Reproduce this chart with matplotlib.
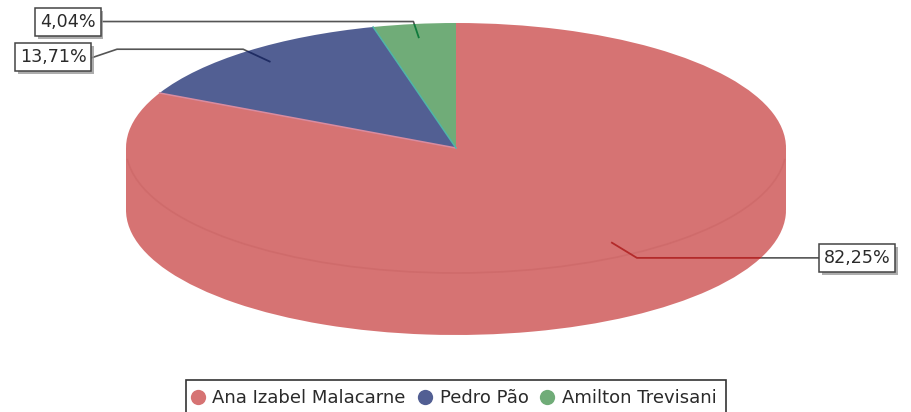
import numpy as np
import matplotlib
matplotlib.use('Agg')
import matplotlib.pyplot as plt
import matplotlib.patheffects as pe
from matplotlib.lines import Line2D
from matplotlib.patches import Arc, Rectangle

names = ['Ana Izabel Malacarne', 'Pedro Pão', 'Amilton Trevisani']
values = [82.25, 13.71, 4.04]
labels = ['82,25%', '13,71%', '4,04%']
colors = ['#D67373', '#525F93', '#70AC78']
line_colors = ['#B32A2A', '#1F2C63', '#0F7A3C']

W, H = 911, 412
cx, cy = 456, 148      # centre of the top ellipse, pixels from top left
rx, ry = 330, 125
depth = 62


def px(x, y):
    # picture pixels -> pie units
    return (x - cx) / rx, (cy - y) / ry


fig = plt.figure(figsize=(W / 100, H / 100), dpi=100)
ax = fig.add_axes([0, 0, 1, 1])

# side of the cylinder, then the top
side, _ = ax.pie(values, colors=[colors[0]] * 3, startangle=90, counterclock=False,
                 center=(0, -depth / ry), radius=1)
top, _ = ax.pie(values, colors=colors, startangle=90, counterclock=False,
                center=(0, 0), radius=1)
ax.add_patch(Rectangle((-1, -depth / ry), 2, depth / ry, fc=colors[0], ec='none', zorder=0.5))
for w in side:
    w.set_zorder(0.4)
for w in top:
    w.set_zorder(1)
ax.add_patch(Arc((0, 0), 2, 2, theta1=185, theta2=355, ec='#CF6B6B', lw=1.2, zorder=1.1))

ax.set_aspect('auto')
ax.set_xlim(-cx / rx, (W - cx) / rx)
ax.set_ylim((cy - H) / ry, cy / ry)
ax.axis('off')

# seams between the slices
fracs = np.cumsum(values) / np.sum(values)
for f, c in zip(fracs[:2], ['#D98CA0', '#4FB5A8']):
    a = np.pi / 2 - 2 * np.pi * f
    ax.plot([0, np.cos(a)], [0, np.sin(a)], color=c, lw=1.1, zorder=1.2)

# leader lines, worked out from the middle of each slice
elbow = [1.036, 1.02, 1.02]
label_end = [820, 91, 100]
clips = [side[0], top[1], top[2]]
mids = np.pi / 2 - 2 * np.pi * (fracs - np.array(values) / np.sum(values) / 2)
for i in range(3):
    x0, y0 = 0.893 * np.cos(mids[i]), 0.893 * np.sin(mids[i])
    x1, y1 = elbow[i] * np.cos(mids[i]), elbow[i] * np.sin(mids[i])
    x2 = px(label_end[i], 0)[0]
    if i == 1:
        xs, ys = [x0, x1, px(117, 0)[0], x2], [y0, y1, y1, px(0, 58)[1]]
    else:
        xs, ys = [x0, x1, x2], [y0, y1, y1]
    ax.plot(xs, ys, color='#555555', lw=1.2, zorder=0.3)
    dark, = ax.plot(xs, ys, color=line_colors[i], lw=1.3, zorder=1.5)
    dark.set_clip_path(clips[i])

# boxed percentages
box_centre = [(857, 258), (53, 57), (68, 22)]
for lab, (bx, by) in zip(labels, box_centre):
    x, y = px(bx, by)
    t = ax.text(x, y, lab, ha='center', va='center', fontsize=12.6, color='#2A2A2A', zorder=3,
                bbox=dict(boxstyle='square,pad=0.28', fc='white', ec='#444444', lw=1.1))
    t.get_bbox_patch().set_path_effects([pe.SimplePatchShadow(offset=(2, -2), shadow_rgbFace='#999999', alpha=0.8),
                                         pe.Normal()])

# legend runs off the bottom edge like the picture
handles = [Line2D([], [], ls='', marker='o', ms=11, mfc=c, mec='none') for c in colors]
leg = fig.legend(handles, names, ncol=3, loc='upper center', bbox_to_anchor=(456 / W, 1 - 380 / H),
                 fontsize=13, frameon=True, fancybox=False, edgecolor='#333333', framealpha=1,
                 borderpad=0.5, borderaxespad=0, handletextpad=0.67, columnspacing=0.9, handlelength=0.3,
                 labelcolor='#2A2A2A')
leg.get_frame().set_linewidth(1.2)

fig.savefig('out.png', dpi=100)
